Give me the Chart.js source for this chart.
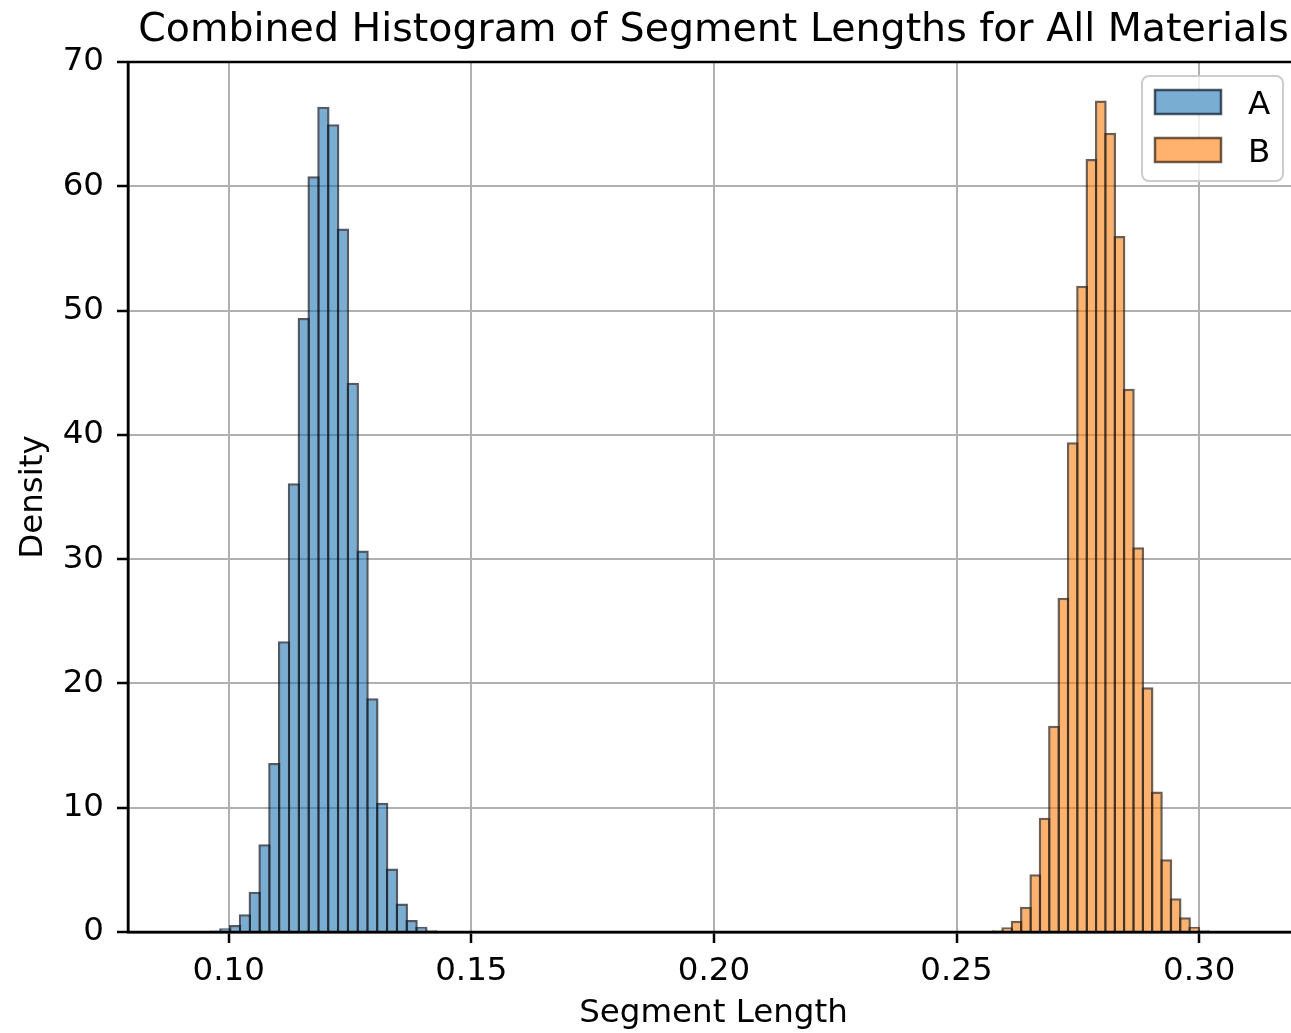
<!DOCTYPE html>
<html>
<head>
<meta charset="utf-8">
<script src="https://cdn.jsdelivr.net/npm/chart.js@4.4.0/dist/chart.umd.min.js"></script>
<style>
html,body{margin:0;padding:0;background:#fff;overflow:hidden;}
#wrap{width:1299px;height:1033px;}
</style>
</head>
<body>
<div id="wrap"><canvas id="grafica" width="1299" height="1033"></canvas></div>
<script>

const titulo = "Combined Histogram of Segment Lengths for All Materials";

const binsA = [
0.09122,0.09324,0.09526,0.09728,0.09930,0.10132,0.10334,0.10536,0.10738,0.10940,
0.11142,0.11344,0.11546,0.11749,0.11951,0.12153,0.12355,0.12557,0.12759,0.12961,
0.13163,0.13365,0.13567,0.13769,0.13971,0.14173,0.14375,0.14577,0.14779,0.14982
];

const densityA = [
0.01,0.02,0.05,0.12,0.30,0.56,1.42,3.24,7.06,13.6,
23.4,36.1,49.4,60.8,66.4,65.0,56.6,44.2,30.7,18.8,
10.4,5.1,2.3,0.97,0.43,0.15,0.05,0.02,0.01,0.01
];

const binsB = [
0.25274,0.25467,0.25659,0.25852,0.26045,0.26238,0.26430,0.26623,0.26816,0.27009,
0.27202,0.27394,0.27587,0.27780,0.27973,0.28165,0.28358,0.28551,0.28744,0.28937,
0.29129,0.29322,0.29515,0.29708,0.29900,0.30093,0.30286,0.30479,0.30672,0.30864
];

const densityB = [
0.01,0.02,0.05,0.15,0.38,0.91,2.04,4.64,9.2,16.6,
26.9,39.4,52.0,62.2,66.9,64.3,56.0,43.7,30.95,19.7,
11.3,5.85,2.71,1.18,0.43,0.15,0.05,0.02,0.01,0.01
];

const etiquetas = ["A","B"];

const xMin = 0.07924;
const xMax = 0.32058;

const fuente = "DejaVu Sans";

Chart.defaults.font.family = fuente;
Chart.defaults.color = "#000";


/* titulo centrado sobre el area de la grafica */

const pluginTitulo = {
id:"titulo",
afterDraw(chart){
const {ctx,chartArea} = chart;
ctx.save();
ctx.font = "39.5px '" + fuente + "'";
ctx.fillStyle = "#000";
ctx.textAlign = "center";
ctx.textBaseline = "alphabetic";
ctx.fillText(titulo,(chartArea.left+chartArea.right)/2,41);
ctx.restore();
}
};


/* marco y leyenda estilo matplotlib */

const pluginMarco = {
id:"marco",
afterDatasetsDraw(chart){
const {ctx,chartArea} = chart;
ctx.save();
ctx.strokeStyle = "#000";
ctx.lineWidth = 2.5;
ctx.strokeRect(chartArea.left,chartArea.top,chartArea.right-chartArea.left,chartArea.bottom-chartArea.top);
ctx.restore();
},
afterDraw(chart){
const {ctx,chartArea} = chart;
const x0 = chartArea.right - 157;
const y0 = chartArea.top + 14;
ctx.save();
ctx.beginPath();
ctx.roundRect(x0,y0,141,105,7);
ctx.fillStyle = "rgba(255,255,255,0.8)";
ctx.fill();
ctx.strokeStyle = "#cccccc";
ctx.lineWidth = 2;
ctx.stroke();

chart.data.datasets.forEach((ds,i)=>{
const py = y0 + 14 + i*48;
ctx.fillStyle = "#fff";
ctx.fillRect(x0+13,py,66,24);
ctx.fillStyle = ds.backgroundColor;
ctx.fillRect(x0+13,py,66,24);
ctx.strokeStyle = ds.legendBorder;
ctx.lineWidth = 2.5;
ctx.strokeRect(x0+13,py,66,24);
ctx.fillStyle = "#000";
ctx.font = "32.5px '" + fuente + "'";
ctx.textAlign = "left";
ctx.textBaseline = "alphabetic";
ctx.fillText(ds.label,x0+106,py+23.5);
});
ctx.restore();
}
};


const ejeX = {
type:"linear",
min:xMin,
max:xMax,
offset:false,
grid:{
offset:false,
color:"#b0b0b0",
lineWidth:2,
tickColor:"#000",
tickWidth:2.5,
tickLength:11
},
border:{display:true,color:"#000",width:2.5},
ticks:{
stepSize:0.05,
includeBounds:false,
padding:9,
font:{size:32.5},
color:"#000",
maxRotation:0,
callback:v=>Number(v).toFixed(2)
},
title:{
display:true,
text:"Segment Length",
font:{size:32.5},
color:"#000",
padding:{top:0,bottom:0}
},
afterFit(scale){
scale.height = 101;
}
};

new Chart(
document.getElementById("grafica"),
{
type:"bar",
data:{
datasets:[
{
label:etiquetas[0],
xAxisID:"x",
data:binsA.map((x,i)=>({x:x,y:densityA[i]})),
backgroundColor:"rgba(31,119,180,0.6)",
borderColor:"rgba(12,28,44,0.72)",
legendBorder:"rgba(12,28,44,0.72)",
borderWidth:2.5,
barPercentage:1.255,
categoryPercentage:1,
grouped:false
},
{
label:etiquetas[1],
xAxisID:"x2",
data:binsB.map((x,i)=>({x:x,y:densityB[i]})),
backgroundColor:"rgba(255,127,14,0.6)",
borderColor:"rgba(55,33,12,0.72)",
legendBorder:"rgba(55,33,12,0.72)",
borderWidth:2.5,
barPercentage:1.267,
categoryPercentage:1,
grouped:false
}
]
},
options:{
responsive:false,
animation:false,
devicePixelRatio:1,
layout:{padding:{top:62,left:0,right:0,bottom:0}},
plugins:{
legend:{display:false},
title:{display:false},
tooltip:{enabled:false}
},
scales:{
x:ejeX,
x2:{
type:"linear",
min:xMin,
max:xMax,
offset:false,
display:false,
grid:{offset:false}
},
y:{
type:"linear",
min:0,
max:70,
grid:{
color:"#b0b0b0",
lineWidth:2,
tickColor:"#000",
tickWidth:2.5,
tickLength:11
},
border:{display:true,color:"#000",width:2.5},
ticks:{
stepSize:10,
padding:13,
font:{size:32.5},
color:"#000"
},
title:{
display:true,
text:"Density",
font:{size:32.5},
color:"#000",
padding:{top:14,bottom:0}
},
afterFit(scale){
scale.width = 128;
}
}
}
},
plugins:[pluginTitulo,pluginMarco]
});

</script>
</body>
</html>
